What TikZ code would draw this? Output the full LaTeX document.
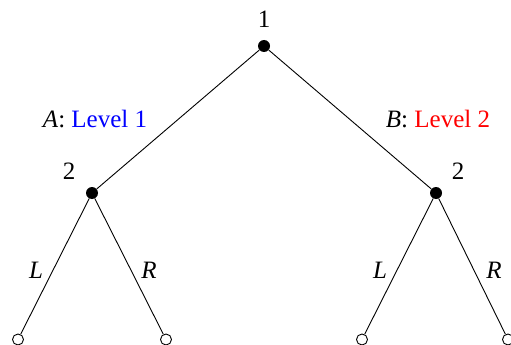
\documentclass[tikz,border=0pt]{standalone}
\usepackage{fontspec}
\setmainfont{Liberation Serif}
\begin{document}
\begin{tikzpicture}[x=1pt,y=-1pt,
  every node/.style={font=\fontsize{25}{29}\selectfont},
  decision/.style={circle,fill=black,inner sep=0pt,minimum size=12pt},
  leaf/.style={circle,draw=black,fill=white,line width=0.9pt,inner sep=0pt,minimum size=11pt},
  edge/.style={line width=0.9pt},
  lbl/.style={inner sep=0pt}]
\useasboundingbox (0,0) rectangle (511,345);
\node[decision] (r) at (264,46) {};
\node[decision] (a) at (92,193) {};
\node[decision] (b) at (436,193) {};
\node[leaf] (l1) at (18,339.5) {};
\node[leaf] (l2) at (166,339.5) {};
\node[leaf] (l3) at (362,339.5) {};
\node[leaf] (l4) at (508,339.5) {};
\draw[edge] (r) -- (a);
\draw[edge] (r) -- (b);
\draw[edge] (a) -- (l1);
\draw[edge] (a) -- (l2);
\draw[edge] (b) -- (l3);
\draw[edge] (b) -- (l4);
\node[lbl] (t1) at (264,19) {1};
\node[lbl] (t2) at (69,171) {2};
\node[lbl] (t3) at (458,171) {2};
\node[lbl] (la) at (95,119) {\textit{A}: \textcolor{blue}{Level 1}};
\node[lbl] (lb) at (438,119) {\textit{B}: \textcolor{red}{Level 2}};
\node[lbl] (e1) at (36,270) {\textit{L}};
\node[lbl] (e2) at (149,270) {\textit{R}};
\node[lbl] (e3) at (380,270) {\textit{L}};
\node[lbl] (e4) at (494,270) {\textit{R}};
\end{tikzpicture}
\end{document}
